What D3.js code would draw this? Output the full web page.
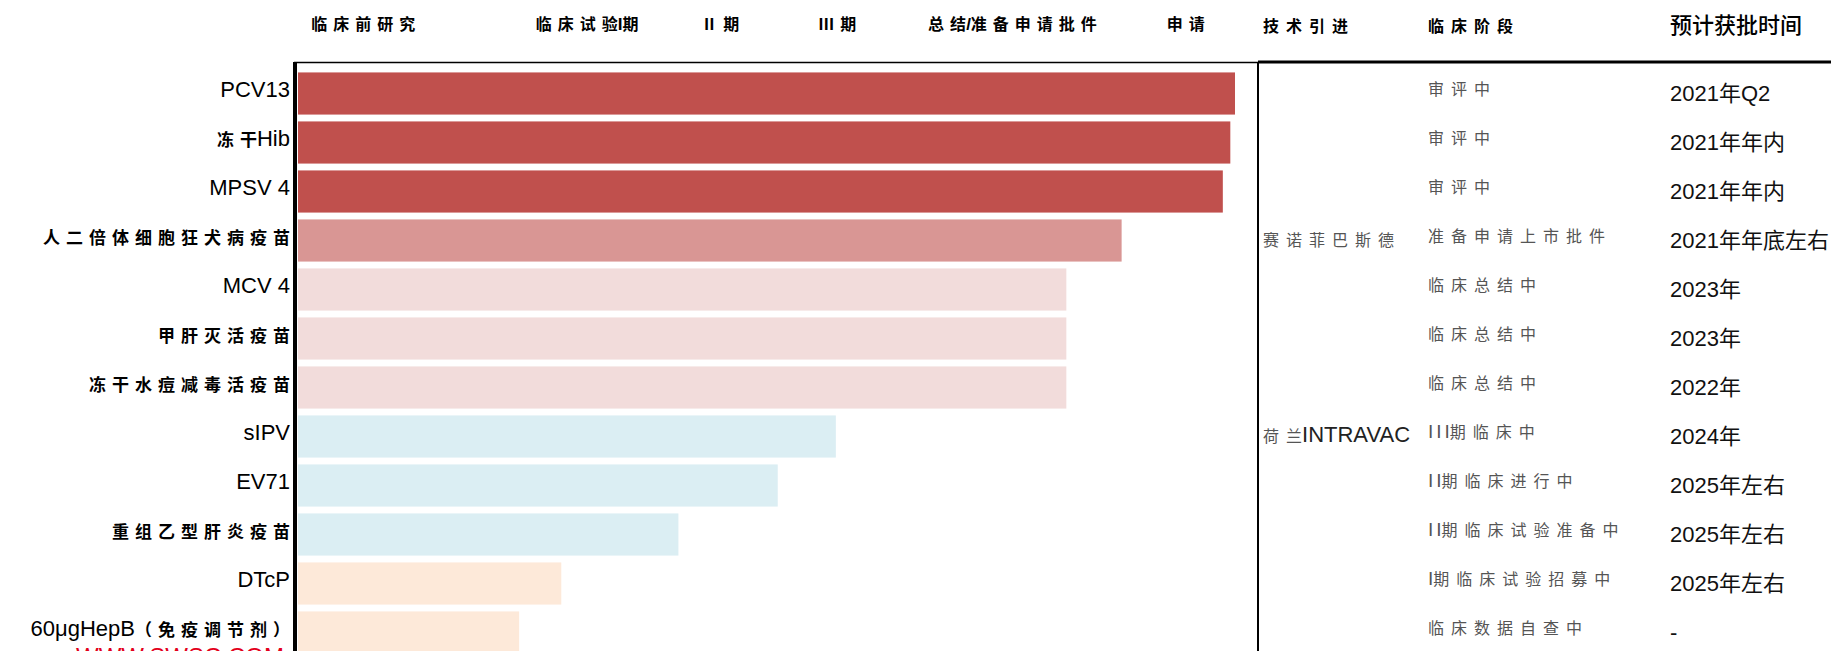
<!DOCTYPE html>
<html>
<head>
<meta charset="utf-8">
<script src="https://cdn.jsdelivr.net/npm/d3@7"></script>
<style>
  html, body { margin: 0; padding: 0; background: #ffffff; }
  svg { display: block; }
</style>
</head>
<body>
<svg id="chart" width="1831" height="651"></svg>
<script>
// ---------------- data ----------------
const categories = ["PCV13", "冻干Hib", "MPSV 4", "人二倍体细胞狂犬病疫苗", "MCV 4", "甲肝灭活疫苗",
  "冻干水痘减毒活疫苗", "sIPV", "EV71", "重组乙型肝炎疫苗", "DTcP", "60μgHepB（免疫调节剂）"];
const progress = [100, 99.5, 98.7, 87.9, 82.0, 82.0, 82.0, 57.4, 51.2, 40.6, 28.1, 23.6];
const stageGroup = ["申请", "申请", "申请", "准备申请", "临床总结", "临床总结", "临床总结",
  "临床中", "临床中", "临床中", "早期临床", "早期临床"];
const techIntro = ["", "", "", "赛诺菲巴斯德", "", "", "", "荷兰INTRAVAC", "", "", "", ""];
const clinicalPhase = ["审评中", "审评中", "审评中", "准备申请上市批件", "临床总结中", "临床总结中",
  "临床总结中", "III期临床中", "II期临床进行中", "II期临床试验准备中", "I期临床试验招募中", "临床数据自查中"];
const approvalTime = ["2021年Q2", "2021年年内", "2021年年内", "2021年年底左右", "2023年", "2023年",
  "2022年", "2024年", "2025年左右", "2025年左右", "2025年左右", "-"];
const stageLabels = ["临床前研究", "临床试验I期", "Ⅱ期", "Ⅲ期", "总结/准备申请批件", "申请"];
const stageTicks = [6.9, 30.8, 45.0, 57.5, 76.2, 94.7];
const tableHeaders = ["技术引进", "临床阶段", "预计获批时间"];

// ---------------- styles ----------------
const groupColors = d3.scaleOrdinal()
  .domain(["申请", "准备申请", "临床总结", "临床中", "早期临床"])
  .range(["#C0504D", "#D99694", "#F2DCDB", "#DBEEF3", "#FDE9D9"]);
const LATIN = "'Liberation Sans', Arial, sans-serif";
const CJK = "'Noto Sans CJK SC', sans-serif";
const isCJK = ch => /[\u2160-\u216f\u3000-\u9fff\uff00-\uffef]/.test(ch);

function runs(str) {
  const out = [];
  for (const ch of str) {
    const c = isCJK(ch);
    if (out.length && out[out.length - 1].cjk === c) out[out.length - 1].t += ch;
    else out.push({ t: ch, cjk: c });
  }
  return out;
}
// write mixed latin / CJK text into a <text> element as tspans;
// letter spacing only between characters of a run (not after its last one)
function rich(textSel, str, latin, cjk) {
  textSel.text(null);
  runs(str).forEach(r => {
    const st = r.cjk ? cjk : latin;
    const chars = Array.from(r.t);
    const parts = chars.length > 1 ? [chars.slice(0, -1).join(""), chars[chars.length - 1]] : [r.t];
    parts.forEach((p, k) => {
      const ts = textSel.append("tspan").text(p);
      Object.entries(st).forEach(([key, v]) => ts.style(key, v));
      if (k === parts.length - 1) ts.style("letter-spacing", "0px");
    });
  });
}

// ---------------- layout ----------------
const W = 1831, H = 651;
const svg = d3.select("#chart");
const axisX = 296, frameTop = 62, splitX = 1258;
const colTech = 1263, colPhase = 1428, colTime = 1670;

const x = d3.scaleLinear().domain([0, 100]).range([298, 1235]);
const y = d3.scaleBand().domain(categories).range([69, 657]).paddingInner(0.14).paddingOuter(0.07);

// watermark (mostly clipped by the bottom edge, as in the source image)
svg.append("text")
  .attr("x", 76).attr("y", 665)
  .style("font-family", LATIN).style("font-size", "24px").style("fill", "#E3001B")
  .text("WWW.SWSC.COM");

// bars
svg.append("g").selectAll("rect")
  .data(categories.map((c, i) => ({ c, v: progress[i], g: stageGroup[i] })))
  .join("rect")
  .attr("x", x(0))
  .attr("y", d => y(d.c))
  .attr("width", d => x(d.v) - x(0))
  .attr("height", y.bandwidth())
  .attr("fill", d => groupColors(d.g));

// frame lines
svg.append("line").attr("x1", axisX - 2).attr("x2", splitX).attr("y1", frameTop + 0.5).attr("y2", frameTop + 0.5)
  .attr("stroke", "#000").attr("stroke-width", 1.5);
svg.append("line").attr("x1", splitX).attr("x2", W).attr("y1", frameTop).attr("y2", frameTop)
  .attr("stroke", "#000").attr("stroke-width", 3);
svg.append("line").attr("x1", axisX - 1).attr("x2", axisX - 1).attr("y1", frameTop).attr("y2", H)
  .attr("stroke", "#000").attr("stroke-width", 4);
svg.append("line").attr("x1", splitX).attr("x2", splitX).attr("y1", frameTop).attr("y2", H)
  .attr("stroke", "#000").attr("stroke-width", 2);

// y axis (category labels)
const yAxis = svg.append("g").attr("transform", `translate(${axisX - 3},0)`)
  .call(d3.axisLeft(y).tickSize(0).tickPadding(3));
yAxis.select(".domain").remove();
yAxis.selectAll(".tick text").each(function (d) {
  const t = d3.select(this).attr("fill", null).style("fill", "#000");
  rich(t, d,
    { "font-family": LATIN, "font-size": "22px", "letter-spacing": "0px" },
    { "font-family": CJK, "font-size": "17px", "font-weight": "700", "letter-spacing": "6px" });
});

// top axis (stage headers)
const xAxis = svg.append("g").attr("transform", "translate(0,26)")
  .call(d3.axisTop(x).tickValues(stageTicks).tickSize(0).tickFormat((d, i) => stageLabels[i]));
xAxis.select(".domain").remove();
xAxis.selectAll(".tick text").attr("y", 0).attr("dy", "0.35em").each(function (d, i) {
  const t = d3.select(this).attr("fill", null).style("fill", "#000");
  rich(t, stageLabels[i],
    { "font-family": LATIN, "font-size": "17px", "font-weight": "700" },
    { "font-family": CJK, "font-size": "16px", "font-weight": "700", "letter-spacing": "6px" });
});

// table headers
const hdr = svg.append("g");
[colTech, colPhase].forEach((cx, i) => {
  const t = hdr.append("text").attr("x", cx).attr("y", 26).attr("dy", "0.35em").style("fill", "#000");
  rich(t, tableHeaders[i], {},
    { "font-family": CJK, "font-size": "16px", "font-weight": "700", "letter-spacing": "7px" });
});
hdr.append("text").attr("x", colTime).attr("y", 25).attr("dy", "0.35em")
  .style("font-family", CJK).style("font-size", "22px").style("font-weight", "500")
  .style("fill", "#000").text(tableHeaders[2]);

// table body
const rows = svg.append("g").selectAll("g")
  .data(categories.map((c, i) => ({ c, tech: techIntro[i], phase: clinicalPhase[i], time: approvalTime[i] })))
  .join("g")
  .attr("transform", d => `translate(0,${y(d.c) + y.bandwidth() / 2})`);

rows.append("text").attr("x", colTech).attr("y", 0).attr("dy", "0.35em")
  .each(function (d) {
    rich(d3.select(this), d.tech,
      { "font-family": LATIN, "font-size": "22px", "fill": "#222" },
      { "font-family": CJK, "font-size": "16px", "letter-spacing": "7px", "fill": "#555" });
  });
rows.append("text").attr("x", colPhase).attr("y", -4).attr("dy", "0.35em")
  .each(function (d) {
    rich(d3.select(this), d.phase,
      { "font-family": LATIN, "font-size": "19px", "letter-spacing": "3px", "fill": "#555" },
      { "font-family": CJK, "font-size": "16px", "letter-spacing": "7px", "fill": "#555" });
  });
rows.append("text").attr("x", colTime).attr("y", 2).attr("dy", "0.35em")
  .each(function (d) {
    rich(d3.select(this), d.time,
      { "font-family": LATIN, "font-size": "22px", "fill": "#111" },
      { "font-family": CJK, "font-size": "22px", "fill": "#111" });
  });
</script>
</body>
</html>
